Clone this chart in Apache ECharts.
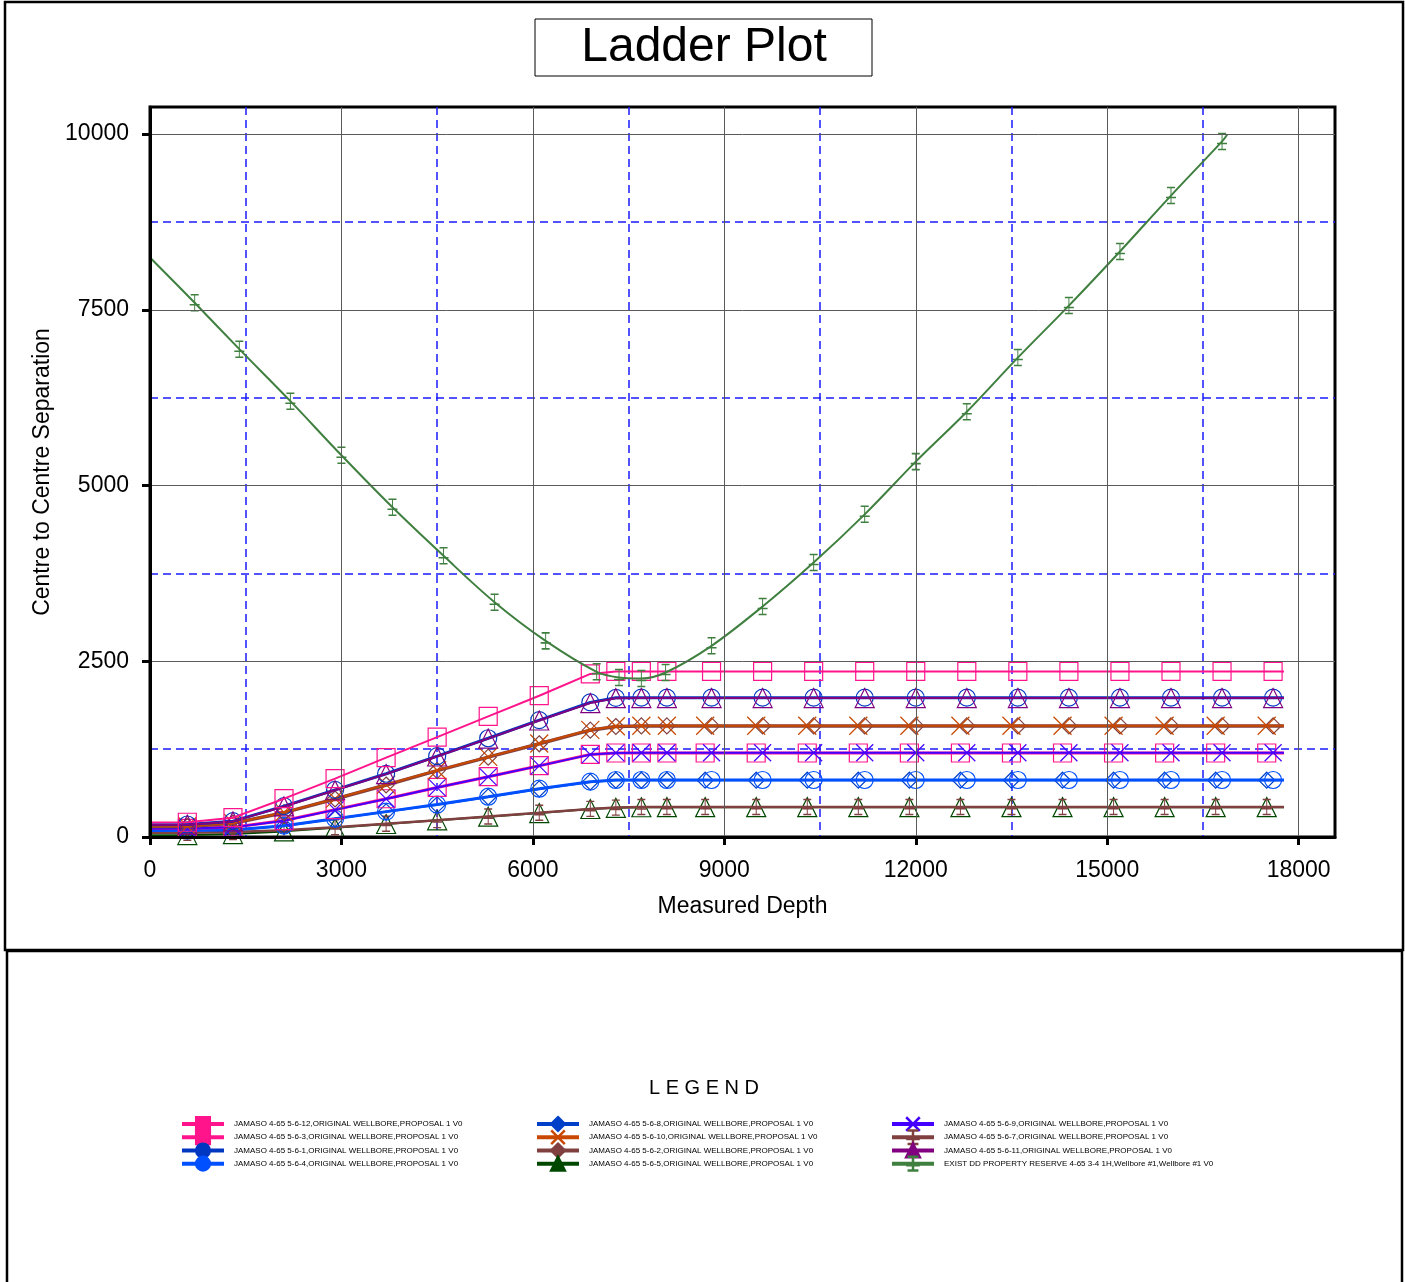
<!DOCTYPE html>
<html><head><meta charset="utf-8">
<script src="https://cdn.jsdelivr.net/npm/echarts@6/dist/echarts.min.js"></script>
<style>html,body{margin:0;padding:0;background:#fff}#c{width:1405px;height:1282px}</style>
</head><body><div id="c"></div>
<script>
// ---- axes / ticks ----
const xTicks = [0, 3000, 6000, 9000, 12000, 15000, 18000];
const xMinorTicks = [1500, 4500, 7500, 10500, 13500, 16500];
const yTicks = [0, 2500, 5000, 7500, 10000];
const yMinorTicks = [1250, 3750, 6250, 8750];
const xMax = 18570;
const yMax = 10385;

// ---- measured depths of the plotted stations ----
const mdA = [585, 1300, 2100, 2900, 3700, 4500, 5300, 6100, 6900, 7300, 7700, 8100, 8700, 9500, 10300, 11100, 11900, 12700, 13500, 14300, 15100, 15900, 16700, 17500];
const mdB = [585, 1300, 2100, 2900, 3700, 4500, 5300, 6100, 6900, 7300, 7700, 8100, 8800, 9600, 10400, 11200, 12000, 12800, 13600, 14400, 15200, 16000, 16800, 17600];
const mdGreen = [700, 1400, 2200, 3000, 3800, 4600, 5400, 6200, 7000, 7350, 7700, 8080, 8800, 9600, 10400, 11200, 12000, 12800, 13600, 14400, 15200, 16000, 16800];
const lineEndMD = 17770;
const greenEndMD = 16880;

// ---- centre-to-centre separation values ----
const v12 = [210, 275, 545, 830, 1130, 1420, 1715, 2010, 2320, 2355, 2355, 2355, 2355, 2355, 2355, 2355, 2355, 2355, 2355, 2355, 2355, 2355, 2355, 2355];
const v3  = [124, 140, 234, 389, 544, 705, 858, 1014, 1175, 1195, 1195, 1195, 1195, 1195, 1195, 1195, 1195, 1195, 1195, 1195, 1195, 1195, 1195, 1195];
const v1  = [178, 225, 440, 670, 900, 1150, 1405, 1662, 1915, 1980, 1982, 1982, 1982, 1982, 1982, 1982, 1982, 1982, 1982, 1982, 1982, 1982, 1982, 1982];
const v4  = [95, 100, 161, 261, 361, 461, 573, 687, 787, 811, 811, 811, 811, 811, 811, 811, 811, 811, 811, 811, 811, 811, 811, 811];
const v8  = [93, 98, 158, 258, 358, 458, 570, 684, 784, 808, 808, 808, 808, 808, 808, 808, 808, 808, 808, 808, 808, 808, 808, 808];
const v10 = [154, 200, 350, 545, 745, 950, 1140, 1330, 1525, 1575, 1583, 1583, 1583, 1583, 1583, 1583, 1583, 1583, 1583, 1583, 1583, 1583, 1583, 1583];
const v2  = [150, 196, 346, 541, 740, 945, 1136, 1326, 1520, 1572, 1580, 1580, 1580, 1580, 1580, 1580, 1580, 1580, 1580, 1580, 1580, 1580, 1580, 1580];
const v5  = [28, 42, 80, 130, 185, 237, 289, 341, 398, 415, 423, 425, 425, 425, 425, 425, 425, 425, 425, 425, 425, 425, 425, 425];
const v9  = [120, 137, 230, 386, 542, 703, 856, 1012, 1172, 1196, 1198, 1198, 1198, 1198, 1198, 1198, 1198, 1198, 1198, 1198, 1198, 1198, 1198, 1198];
const v7  = [62, 70, 95, 140, 190, 240, 292, 344, 400, 418, 426, 428, 428, 428, 428, 428, 428, 428, 428, 428, 428, 428, 428, 428];
const v11 = [175, 222, 435, 665, 895, 1145, 1400, 1657, 1905, 1975, 1977, 1977, 1977, 1977, 1977, 1977, 1977, 1977, 1977, 1977, 1977, 1977, 1977, 1977];
const vGreen = [7600, 6940, 6200, 5430, 4690, 4000, 3340, 2790, 2350, 2270, 2255, 2340, 2720, 3280, 3905, 4590, 5340, 6050, 6820, 7560, 8330, 9125, 9895];
// values at depth 0 (line start) and at the line end
const startVals = {s12: 205, s3: 122, s1: 175, s4: 94, s8: 92, s10: 151, s2: 148, s5: 25, s9: 118, s7: 60, s11: 172, sG: 8245};
const endVals   = {s12: 2355, s3: 1195, s1: 1982, s4: 811, s8: 808, s10: 1583, s2: 1580, s5: 425, s9: 1198, s7: 428, s11: 1977, sG: 9990};

const FONT = "'Liberation Sans', Arial, Helvetica, sans-serif";
const SYM_X = 'path://M0,0L10,10M10,0L0,10';
const SYM_PLUS = 'path://M5,0L5,16M1,0L9,0M0,10L10,10M1,16L9,16';

const defs = [
  {key: 's12', name: 'JAMASO 4-65 5-6-12,ORIGINAL WELLBORE,PROPOSAL 1 V0', color: '#ff148c', symbol: 'rect', size: 18, md: mdB, vals: v12, w: 2, zo: 11},
  {key: 's3',  name: 'JAMASO 4-65 5-6-3,ORIGINAL WELLBORE,PROPOSAL 1 V0', color: '#ff148c', symbol: 'rect', size: 18, md: mdA, vals: v3, w: 3, zo: 5},
  {key: 's1',  name: 'JAMASO 4-65 5-6-1,ORIGINAL WELLBORE,PROPOSAL 1 V0', color: '#0037c0', symbol: 'circle', size: 17, md: mdB, vals: v1, w: 3, zo: 8},
  {key: 's4',  name: 'JAMASO 4-65 5-6-4,ORIGINAL WELLBORE,PROPOSAL 1 V0', color: '#0050ff', symbol: 'circle', size: 17, md: mdB, vals: v4, w: 3, zo: 4},
  {key: 's8',  name: 'JAMASO 4-65 5-6-8,ORIGINAL WELLBORE,PROPOSAL 1 V0', color: '#0040c8', symbol: 'diamond', size: 16, md: mdA, vals: v8, w: 2, zo: 3},
  {key: 's10', name: 'JAMASO 4-65 5-6-10,ORIGINAL WELLBORE,PROPOSAL 1 V0', color: '#c84800', symbol: SYM_X, size: 18, md: mdA, vals: v10, w: 2, zo: 7},
  {key: 's2',  name: 'JAMASO 4-65 5-6-2,ORIGINAL WELLBORE,PROPOSAL 1 V0', color: '#804040', symbol: 'diamond', size: 16, md: mdB, vals: v2, w: 3.5, zo: 6},
  {key: 's5',  name: 'JAMASO 4-65 5-6-5,ORIGINAL WELLBORE,PROPOSAL 1 V0', color: '#004800', symbol: 'triangle', size: [19, 19], md: mdA, vals: v5, w: 2, zo: 1},
  {key: 's9',  name: 'JAMASO 4-65 5-6-9,ORIGINAL WELLBORE,PROPOSAL 1 V0', color: '#4400ff', symbol: SYM_X, size: 17, md: mdB, vals: v9, w: 2, zo: 5.5},
  {key: 's7',  name: 'JAMASO 4-65 5-6-7,ORIGINAL WELLBORE,PROPOSAL 1 V0', color: '#804040', symbol: SYM_PLUS, size: [10, 15], md: mdA, vals: v7, w: 2.5, zo: 2},
  {key: 's11', name: 'JAMASO 4-65 5-6-11,ORIGINAL WELLBORE,PROPOSAL 1 V0', color: '#800080', symbol: 'triangle', size: [19, 19], md: mdB, vals: v11, w: 2, zo: 9},
  {key: 'sG',  name: 'EXIST DD PROPERTY RESERVE 4-65 3-4 1H,Wellbore #1,Wellbore #1 V0', color: '#3f7f3f', symbol: SYM_PLUS, size: [10, 16], md: mdGreen, vals: vGreen, w: 2, smooth: 0.35, endMD: greenEndMD, zo: 12}
];

const series = defs.map((d) => {
  const data = [{value: [0, startVals[d.key]], symbol: 'none'}];
  d.md.forEach((m, j) => data.push([m, d.vals[j]]));
  data.push({value: [d.endMD || lineEndMD, endVals[d.key]], symbol: 'none'});
  return {
    name: d.name, type: 'line', xAxisIndex: 0, yAxisIndex: 0,
    data, symbol: d.symbol, symbolSize: d.size, showAllSymbol: true,
    smooth: d.smooth || false, color: d.color,
    lineStyle: {color: d.color, width: d.w},
    itemStyle: {color: 'rgba(255,255,255,0)', borderColor: d.color, borderWidth: 1.2},
    emphasis: {disabled: true}, silent: true, animation: false,
    z: 2 + d.zo * 0.01
  };
});

const legendCols = [180, 535, 890];
const legends = legendCols.map((left, k) => ({
  orient: 'vertical', left: left, top: 1116, padding: 0,
  itemWidth: 42, itemHeight: 17, itemGap: -2.9, selectedMode: false,
  textStyle: {fontSize: 8, fontFamily: FONT, color: '#000', padding: [0, 0, 0, 5]},
  data: defs.slice(k * 4, k * 4 + 4).map(d => ({
    name: d.name,
    itemStyle: {color: d.color, borderColor: d.color, borderWidth: 2.5},
    lineStyle: {color: d.color, width: 4}
  }))
}));

const fmt = step => v => (Math.abs(v % step) < 1e-6 ? String(v) : '');

const option = {
  backgroundColor: '#fff',
  animation: false,
  grid: {left: 150, top: 107, width: 1185, height: 730, show: true, borderColor: '#000', borderWidth: 3, backgroundColor: '#fff'},
  xAxis: [
    {
      type: 'value', min: 0, max: xMax, interval: 3000, position: 'bottom', z: 3,
      name: 'Measured Depth', nameLocation: 'middle', nameGap: 58,
      nameTextStyle: {fontSize: 23, fontFamily: FONT, color: '#000'},
      axisLine: {show: true, onZero: false, lineStyle: {color: '#000', width: 3}},
      axisTick: {show: true, length: 8, lineStyle: {color: '#000', width: 3}, customValues: xTicks},
      axisLabel: {fontSize: 23, fontFamily: FONT, color: '#000', margin: 22, formatter: fmt(3000), customValues: xTicks},
      splitLine: {show: true, lineStyle: {color: '#5a5a5a', width: 1, type: 'solid'}}
    },
    {
      type: 'value', min: 0, max: xMax, interval: 1500, position: 'top', z: 1,
      axisLine: {show: false}, axisLabel: {show: false},
      axisTick: {show: false, customValues: xMinorTicks},
      splitLine: {show: true, lineStyle: {color: '#1a1aff', width: 1.5, type: [8, 5]}}
    }
  ],
  yAxis: [
    {
      type: 'value', min: 0, max: yMax, interval: 2500, position: 'left', z: 3,
      name: 'Centre to Centre Separation', nameLocation: 'middle', nameGap: 93,
      nameTextStyle: {fontSize: 23, fontFamily: FONT, color: '#000'},
      axisLine: {show: true, onZero: false, lineStyle: {color: '#000', width: 3}},
      axisTick: {show: true, length: 8, lineStyle: {color: '#000', width: 3}, customValues: yTicks},
      axisLabel: {fontSize: 23, fontFamily: FONT, color: '#000', margin: 21, formatter: fmt(2500), customValues: yTicks},
      splitLine: {show: true, lineStyle: {color: '#5a5a5a', width: 1, type: 'solid'}}
    },
    {
      type: 'value', min: 0, max: yMax, interval: 1250, position: 'right', z: 1,
      axisLine: {show: false}, axisLabel: {show: false},
      axisTick: {show: false, customValues: yMinorTicks},
      splitLine: {show: true, lineStyle: {color: '#1a1aff', width: 1.5, type: [8, 5]}}
    }
  ],
  legend: legends,
  graphic: [
    {type: 'rect', silent: true, z: 100, shape: {x: 5, y: 2, width: 1398, height: 948}, style: {fill: 'none', stroke: '#000', lineWidth: 2.5}},
    {type: 'rect', silent: true, z: 100, shape: {x: 7, y: 951, width: 1395, height: 345}, style: {fill: 'none', stroke: '#000', lineWidth: 2.5}},
    {type: 'rect', silent: true, z: 100, shape: {x: 535, y: 19, width: 337, height: 57}, style: {fill: '#fff', stroke: '#000', lineWidth: 1}},
    {type: 'text', silent: true, z: 101, x: 704, y: 48, style: {text: 'Ladder Plot', font: "48px " + FONT, fill: '#000', textAlign: 'center', textVerticalAlign: 'middle'}},
    {type: 'text', silent: true, z: 101, x: 704, y: 1088, style: {text: 'L E G E N D', font: "20px " + FONT, fill: '#000', textAlign: 'center', textVerticalAlign: 'middle'}}
  ],
  series
};

const chart = echarts.init(document.getElementById('c'), null, {renderer: 'canvas'});
chart.setOption(option);
</script>
</body></html>
